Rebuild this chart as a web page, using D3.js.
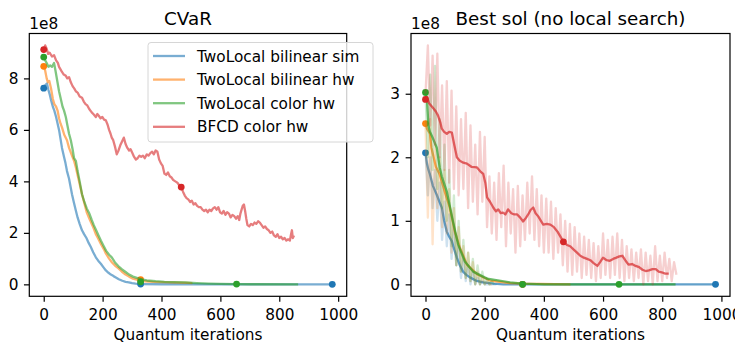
<!DOCTYPE html>
<html>
<head>
<meta charset="utf-8">
<script src="https://cdn.jsdelivr.net/npm/d3@7"></script>
<style>
body { margin: 0; background: #fff; }
text { font-family: "DejaVu Sans", sans-serif; fill: #000; }
</style>
</head>
<body>
<svg width="735" height="348"></svg>
<script>
// series names and colours (matplotlib tab10)
var names = ["TwoLocal bilinear sim", "TwoLocal bilinear hw", "TwoLocal color hw", "BFCD color hw"];
var colors = ["#1f77b4", "#ff7f0e", "#2ca02c", "#d62728"];

// CVaR panel, [iteration, value in 1e8]
var cvarSim = [[0,7.62],[6,7.75],[11,7.8],[16,7.55],[21,7.35],[25,7.15],[31,6.9],[36,6.75],[42,6.5],[47,6.25],[52,6.0],[57,5.65],[62,5.3],[68,5.0],[74,4.7],[79,4.4],[86,4.1],[91,3.8],[96,3.5],[102,3.2],[109,2.87],[115,2.6],[122,2.35],[130,2.1],[137,1.95],[145,1.8],[153,1.6],[160,1.45],[168,1.25],[177,1.05],[185,0.92],[194,0.8],[203,0.66],[211,0.54],[220,0.45],[228,0.38],[237,0.32],[245,0.27],[255,0.2],[267,0.14],[278,0.1],[289,0.08],[300,0.05],[312,0.03],[329,0.01],[400,0.005],[980,0]];
var cvarBilHw = [[0,8.47],[5,8.3],[10,8.0],[14,7.85],[19,7.9],[25,7.6],[31,7.2],[36,7.0],[42,6.9],[47,6.75],[52,6.45],[57,6.25],[62,6.1],[70,5.8],[79,5.6],[86,5.3],[96,5.0],[103,4.8],[109,4.55],[116,4.2],[123,3.85],[130,3.5],[138,3.15],[146,2.8],[157,2.5],[167,2.25],[177,1.95],[184,1.8],[195,1.55],[205,1.35],[211,1.2],[222,1.0],[232,0.85],[245,0.7],[254,0.62],[265,0.5],[278,0.38],[290,0.3],[303,0.22],[316,0.18],[329,0.15],[345,0.12],[370,0.1],[400,0.09],[430,0.08],[460,0.07],[490,0.06],[505,0.05]];
var cvarColHw = [[0,8.83],[5,8.7],[10,8.6],[16,8.45],[22,8.5],[28,8.45],[35,8.6],[40,8.3],[46,7.9],[52,7.5],[58,7.2],[64,6.9],[69,6.75],[75,6.5],[80,6.2],[86,5.85],[92,5.6],[98,5.25],[103,4.9],[109,4.8],[115,4.4],[122,4.0],[130,3.5],[138,3.2],[146,2.95],[155,2.75],[163,2.5],[170,2.3],[178,2.1],[186,1.9],[194,1.7],[203,1.5],[212,1.3],[222,1.15],[231,1.05],[242,0.85],[254,0.7],[266,0.58],[278,0.48],[290,0.38],[303,0.3],[316,0.25],[329,0.2],[350,0.15],[380,0.12],[410,0.1],[440,0.09],[480,0.08],[520,0.05],[560,0.03],[600,0.02],[655,0.01],[700,0.005],[864,0]];
var cvarBfcd = [[0,9.12],[5,9.28],[10,9.15],[15,8.95],[20,9.0],[28,8.85],[35,8.9],[42,8.7],[48,8.6],[52,8.45],[57,8.35],[62,8.25],[68,8.15],[75,8.1],[80,8.0],[86,8.05],[92,7.85],[98,7.7],[104,7.6],[109,7.5],[115,7.45],[122,7.3],[130,7.25],[136,7.1],[142,7.0],[148,6.95],[155,6.8],[163,6.68],[170,6.6],[177,6.5],[182,6.62],[187,6.55],[193,6.45],[199,6.5],[205,6.4],[211,6.37],[217,6.2],[222,6.0],[227,5.85],[231,5.7],[236,5.6],[242,5.35],[248,5.05],[254,5.2],[260,5.4],[266,5.55],[272,5.7],[278,5.45],[284,5.3],[290,5.2],[295,5.25],[301,5.1],[307,4.95],[313,4.85],[319,4.9],[325,5.0],[331,4.95],[337,5.0],[343,4.9],[350,5.05],[356,5.0],[362,5.1],[368,5.15],[374,5.05],[380,5.2],[386,5.15],[392,4.85],[398,4.7],[404,4.6],[410,4.3],[416,4.25],[422,4.35],[428,4.2],[434,4.15],[440,4.05],[447,4.0],[454,3.95],[460,3.85],[467,3.78],[473,3.6],[479,3.45],[485,3.35],[491,3.3],[497,3.2],[503,3.25],[509,3.1],[515,3.15],[521,3.05],[527,3.0],[533,3.0],[539,2.9],[545,2.85],[551,2.9],[557,2.8],[563,2.9],[569,2.85],[575,2.95],[581,3.0],[587,2.9],[593,3.0],[599,2.8],[605,2.75],[611,2.85],[617,2.7],[623,2.8],[629,2.75],[635,2.6],[641,2.7],[647,2.65],[653,2.55],[659,2.65],[664,2.5],[668,2.75],[672,2.9],[676,3.05],[680,3.1],[684,2.85],[688,2.55],[692,2.3],[698,2.25],[704,2.35],[710,2.3],[716,2.4],[722,2.35],[728,2.45],[734,2.4],[740,2.3],[746,2.2],[752,2.25],[758,2.15],[764,2.1],[770,2.0],[776,2.05],[782,1.9],[788,1.85],[794,1.95],[800,1.8],[806,1.85],[812,1.75],[818,1.8],[824,1.7],[830,1.75],[836,1.7],[840,1.95],[843,2.1],[846,1.8],[850,1.9]];
var cvarMarks = [[[0,7.62],[329,0.01],[980,0]], [[0,8.47],[329,0.18]], [[0,8.83],[329,0.1],[655,0.01]], [[0,9.12],[467,3.78]]];

// Best sol panel, running mean [iteration, value in 1e8]
var bestSim = [[0,2.07],[5,1.9],[10,1.8],[15,1.73],[25,1.55],[38,1.41],[47,1.3],[55,1.21],[63,1.0],[72,0.83],[80,0.75],[89,0.68],[97,0.55],[106,0.42],[116,0.3],[127,0.2],[138,0.15],[150,0.11],[170,0.06],[195,0.03],[230,0.01],[262,0],[980,0]];
var bestBilHw = [[0,2.53],[5,2.45],[15,2.37],[20,2.15],[25,2.05],[35,1.85],[48,1.73],[65,1.46],[82,1.21],[99,0.83],[116,0.58],[140,0.31],[174,0.16],[218,0.06],[286,0.02],[329,0.01],[490,0]];
var bestColHw = [[0,3.02],[5,2.9],[10,2.5],[15,2.4],[25,2.3],[38,2.15],[48,1.84],[55,1.7],[72,1.46],[93,0.99],[110,0.63],[133,0.36],[161,0.2],[208,0.09],[286,0.03],[328,0.01],[400,0],[845,0]];
var bestBfcd = [[0,2.91],[5,2.95],[12,2.85],[25,2.78],[35,2.72],[42,2.66],[50,2.55],[55,2.45],[63,2.4],[72,2.37],[80,2.4],[89,2.39],[97,2.2],[106,2.0],[115,1.95],[125,1.92],[140,1.9],[155,1.85],[174,1.84],[185,1.78],[195,1.74],[202,1.6],[208,1.37],[218,1.3],[229,1.21],[238,1.15],[246,1.18],[254,1.12],[262,1.13],[270,1.1],[279,1.18],[290,1.12],[300,1.1],[310,1.1],[320,1.05],[330,0.99],[340,1.05],[347,1.1],[355,1.17],[364,1.21],[372,1.12],[381,1.07],[390,1.0],[398,0.94],[410,0.95],[422,0.94],[434,0.9],[446,0.83],[456,0.75],[466,0.67],[478,0.62],[489,0.6],[500,0.55],[512,0.5],[523,0.45],[535,0.42],[546,0.4],[557,0.38],[569,0.33],[581,0.29],[590,0.35],[600,0.42],[612,0.38],[623,0.37],[634,0.4],[645,0.42],[655,0.44],[665,0.45],[675,0.38],[686,0.31],[698,0.32],[710,0.29],[722,0.27],[733,0.23],[744,0.21],[755,0.22],[767,0.24],[778,0.24],[788,0.2],[798,0.19],[810,0.17],[822,0.17]];
var bestMarks = [[[0,2.07],[328,0],[980,0]], [[0,2.53],[328,0]], [[0,3.02],[328,0],[654,0]], [[0,2.91],[466,0.67]]];

// raw best values, one sample every 8 iterations
var rawStep = 8;
var rawSim = [2.1,1.4,2.0,1.2,1.8,1.0,1.6,0.7,1.3,0.6,1.1,0.4,0.9,0.3,0.6,0.1,0.4,0.05,0.3,0,0.2,0,0.1,0,0.05,0,0,0,0,0,0];
var rawBilHw = [2.5,1.05,2.6,0.63,2.2,1.2,2.0,0.9,1.8,0.8,1.5,0.5,1.2,0.3,0.9,0.2,0.6,0.1,0.5,0.05,0.35,0,0.2,0,0.1,0,0.05,0,0];
var rawColHw = [3.0,2.0,3.3,1.8,3.44,1.5,2.6,1.2,2.2,1.0,1.8,0.6,1.4,0.3,1.0,0.2,0.7,0.1,0.5,0.05,0.4,0,0.3,0,0.2,0,0.1,0,0.05,0];
var rawBfcd = [3.0,3.76,2.5,3.6,2.2,3.63,2.0,3.13,1.8,3.2,1.6,3.05,1.5,2.8,1.4,2.6,1.5,2.7,1.2,2.5,1.3,2.2,1.1,2.4,1.3,2.32,0.9,1.7,0.8,1.6,0.7,1.75,0.9,1.87,0.6,1.6,0.8,1.5,0.5,1.55,0.6,1.4,0.7,1.6,0.8,1.7,0.7,1.5,0.6,1.4,0.5,1.35,0.5,1.3,0.4,1.2,0.5,1.1,0.3,1.0,0.2,0.95,0.15,0.9,0.2,0.8,0.1,0.75,0.15,0.7,0.1,0.65,0.05,0.6,0.1,0.8,0.15,0.7,0.1,0.75,0.15,0.8,0.1,0.7,0.05,0.6,0.1,0.55,0.05,0.5,0.1,0.55,0,0.5,0.05,0.45,0,0.6,0.05,0.45,0.05,0.5,0.1,0.4,0.05,0.35,0.15];

var xTicks = [0, 200, 400, 600, 800, 1000];
var cvarTicks = [0, 2, 4, 6, 8];
var bestTicks = [0, 1, 2, 3];

var svg = d3.select("svg");
var fs = 15.3;

function pad(ext) {
    var d = ext[1] - ext[0];
    return [ext[0] - d * 0.05, ext[1] + d * 0.05];
}

function panel(p) {
    var allPts = d3.merge(p.lines.concat(p.raw || []));
    var x = d3.scaleLinear().domain(pad(d3.extent(allPts, d => d[0]))).range([p.left, p.right]);
    var y = d3.scaleLinear().domain(pad(d3.extent(allPts, d => d[1]))).range([p.bottom, p.top]);
    var g = svg.append("g");

    var line = d3.line().x(d => x(d[0])).y(d => y(d[1]));

    p.lines.forEach(function(s, i) {
        if (p.raw) {
            g.append("path").attr("d", line(p.raw[i]))
                .attr("fill", "none").attr("stroke", colors[i])
                .attr("stroke-opacity", 0.22).attr("stroke-width", 2.3)
                .attr("stroke-linejoin", "round");
        }
        g.append("path").attr("d", line(s))
            .attr("fill", "none").attr("stroke", colors[i])
            .attr("stroke-opacity", p.alpha).attr("stroke-width", 2.3)
            .attr("stroke-linejoin", "round");
        g.selectAll(null).data(p.marks[i]).enter().append("circle")
            .attr("cx", d => x(d[0])).attr("cy", d => y(d[1]))
            .attr("r", 3.4).attr("fill", colors[i]);
    });

    // frame
    g.append("rect").attr("x", p.left).attr("y", p.top)
        .attr("width", p.right - p.left).attr("height", p.bottom - p.top)
        .attr("fill", "none").attr("stroke", "#000").attr("stroke-width", 1.2);

    var xa = g.append("g").attr("transform", "translate(0," + p.bottom + ")")
        .call(d3.axisBottom(x).tickValues(xTicks).tickFormat(d3.format("d")).tickSize(5.35).tickPadding(7.3));
    var ya = g.append("g").attr("transform", "translate(" + p.left + ",0)")
        .call(d3.axisLeft(y).tickValues(p.yTicks).tickFormat(d3.format("d")).tickSize(5.35).tickPadding(5.6));
    [xa, ya].forEach(function(a) {
        a.select(".domain").remove();
        a.selectAll("line").attr("stroke", "#000").attr("stroke-width", 1.2);
        a.selectAll("text").style("font-size", fs + "px").style("font-family", "DejaVu Sans").attr("fill", "#000");
    });

    g.append("text").attr("x", (p.left + p.right) / 2).attr("y", 340)
        .attr("text-anchor", "middle").style("font-size", fs + "px").text("Quantum iterations");
    g.append("text").attr("x", (p.left + p.right) / 2).attr("y", 25)
        .attr("text-anchor", "middle").style("font-size", "18.3px").text(p.title);
    g.append("text").attr("x", p.left).attr("y", 29)
        .style("font-size", fs + "px").text("1e8");
}

panel({
    title: "CVaR", left: 29.3, right: 346.7, top: 33.5, bottom: 296.3,
    lines: [cvarSim, cvarBilHw, cvarColHw, cvarBfcd], marks: cvarMarks,
    yTicks: cvarTicks, alpha: 0.6
});

var toPts = v => v.map((d, i) => [i * rawStep, d]);
panel({
    title: "Best sol (no local search)", left: 411, right: 730, top: 33.5, bottom: 296.3,
    lines: [bestSim, bestBilHw, bestColHw, bestBfcd], marks: bestMarks,
    raw: [rawSim, rawBilHw, rawColHw, rawBfcd].map(toPts),
    yTicks: bestTicks, alpha: 0.7
});

// legend on the CVaR panel
var lg = svg.append("g");
lg.append("rect").attr("x", 148).attr("y", 42.5).attr("width", 225).attr("height", 99.5)
    .attr("rx", 3).attr("fill", "#fff").attr("fill-opacity", 0.8)
    .attr("stroke", "#d6d6d6").attr("stroke-width", 1);
names.forEach(function(n, i) {
    var yy = 56 + i * 23.6;
    lg.append("line").attr("x1", 153).attr("x2", 185).attr("y1", yy).attr("y2", yy)
        .attr("stroke", colors[i]).attr("stroke-opacity", 0.6).attr("stroke-width", 2.3);
    lg.append("text").attr("x", 197).attr("y", yy + 5.5)
        .style("font-size", fs + "px").text(n);
});
</script>
</body>
</html>
